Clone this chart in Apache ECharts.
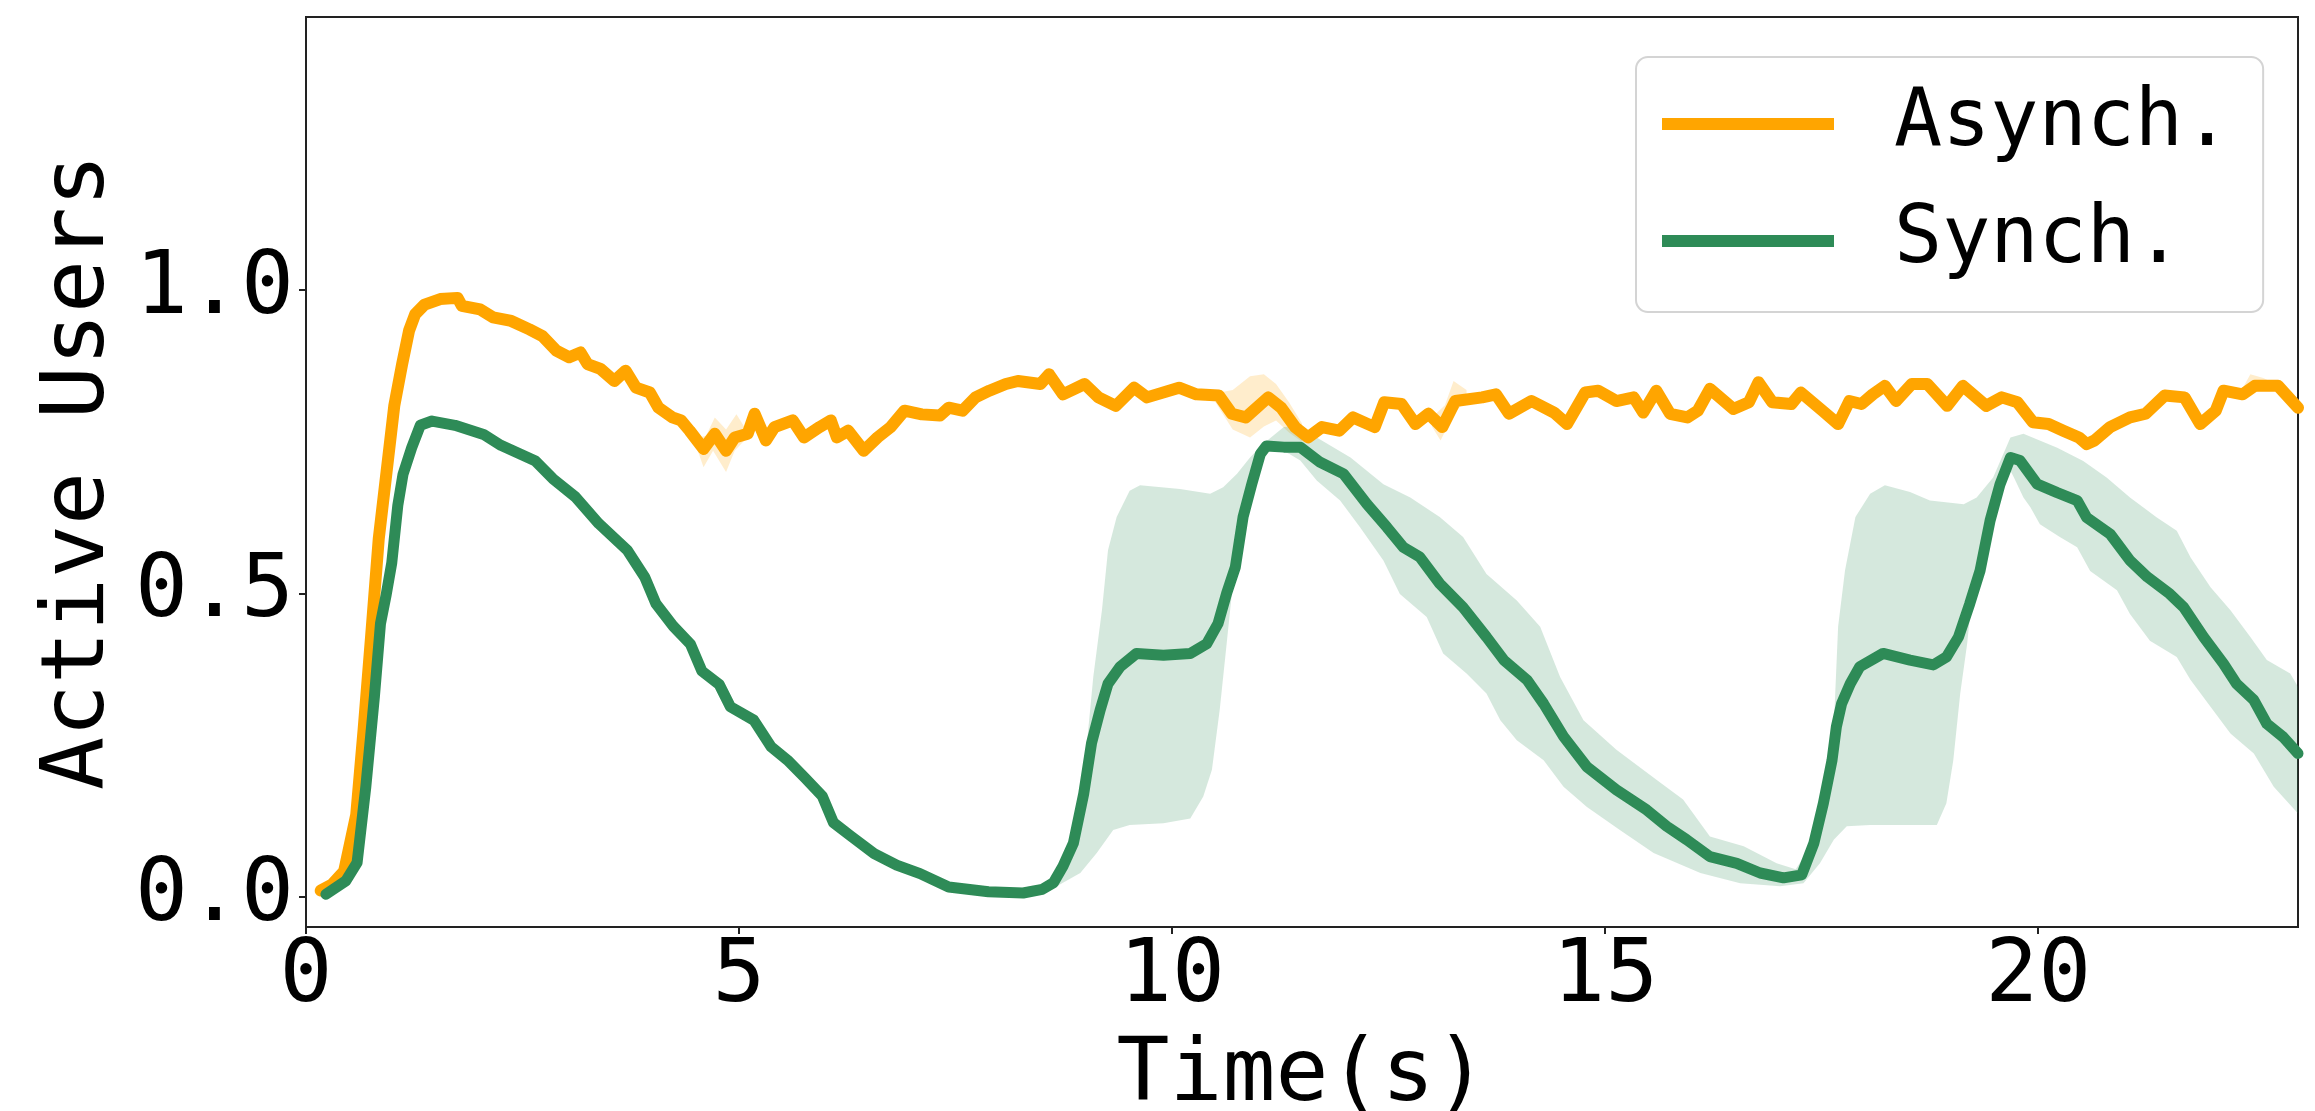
<!DOCTYPE html>
<html><head><meta charset="utf-8">
<script src="https://cdn.jsdelivr.net/npm/echarts@6/dist/echarts.min.js"></script>
<style>html,body{margin:0;padding:0;background:#fff}#c{width:2315px;height:1111px}</style>
</head><body><div id="c"></div>
<script>
const X_TICKS = [0, 5, 10, 15, 20];
const Y_TICKS = [0, 0.5, 1.0];
const NAME_ASYNC = 'Asynch.';
const NAME_SYNC = 'Synch.';

const ASYNC = [[0.17,0.010],[0.30,0.020],[0.44,0.042],[0.58,0.135],[0.665,0.275],[0.75,0.426],[0.84,0.59],[0.93,0.70],[1.02,0.81],[1.11,0.878],[1.19,0.933],[1.26,0.960],[1.37,0.976],[1.55,0.985],[1.75,0.987],[1.80,0.974],[2.01,0.968],[2.16,0.955],[2.37,0.949],[2.58,0.935],[2.73,0.924],[2.89,0.900],[3.04,0.889],[3.17,0.897],[3.25,0.878],[3.40,0.870],[3.56,0.850],[3.69,0.867],[3.81,0.839],[3.97,0.831],[4.07,0.806],[4.23,0.790],[4.33,0.785],[4.43,0.768],[4.59,0.738],[4.72,0.763],[4.85,0.735],[4.95,0.757],[5.10,0.763],[5.18,0.796],[5.31,0.752],[5.41,0.774],[5.62,0.785],[5.75,0.757],[5.93,0.774],[6.06,0.785],[6.13,0.757],[6.26,0.768],[6.44,0.735],[6.60,0.757],[6.75,0.774],[6.91,0.801],[7.11,0.795],[7.32,0.793],[7.42,0.806],[7.58,0.801],[7.73,0.823],[7.89,0.834],[8.08,0.845],[8.22,0.850],[8.48,0.845],[8.58,0.861],[8.74,0.828],[8.99,0.845],[9.15,0.823],[9.35,0.809],[9.56,0.839],[9.71,0.823],[10.08,0.839],[10.28,0.828],[10.54,0.826],[10.69,0.796],[10.85,0.790],[11.11,0.823],[11.26,0.806],[11.42,0.774],[11.57,0.757],[11.73,0.774],[11.93,0.768],[12.09,0.790],[12.34,0.774],[12.45,0.815],[12.65,0.812],[12.81,0.779],[12.96,0.796],[13.12,0.774],[13.27,0.817],[13.58,0.823],[13.74,0.828],[13.89,0.796],[14.15,0.817],[14.41,0.798],[14.56,0.779],[14.77,0.831],[14.92,0.834],[15.13,0.817],[15.33,0.823],[15.44,0.798],[15.59,0.834],[15.75,0.796],[15.95,0.790],[16.07,0.801],[16.21,0.837],[16.48,0.804],[16.66,0.815],[16.77,0.848],[16.93,0.815],[17.15,0.812],[17.26,0.831],[17.51,0.801],[17.69,0.779],[17.82,0.817],[17.96,0.812],[18.09,0.828],[18.23,0.842],[18.36,0.817],[18.54,0.845],[18.72,0.845],[18.95,0.809],[19.13,0.842],[19.40,0.809],[19.58,0.823],[19.76,0.815],[19.94,0.782],[20.12,0.779],[20.29,0.768],[20.47,0.757],[20.56,0.746],[20.65,0.752],[20.83,0.774],[21.06,0.790],[21.24,0.796],[21.46,0.826],[21.69,0.823],[21.87,0.779],[22.05,0.801],[22.14,0.834],[22.36,0.828],[22.50,0.842],[22.77,0.842],[23.0,0.806]];

const SYNC = [[0.23,0.004],[0.46,0.026],[0.59,0.056],[0.69,0.18],[0.79,0.33],[0.86,0.45],[0.925,0.497],[0.99,0.55],[1.06,0.645],[1.12,0.696],[1.22,0.74],[1.32,0.777],[1.455,0.784],[1.72,0.777],[2.05,0.762],[2.25,0.744],[2.65,0.718],[2.85,0.689],[3.11,0.659],[3.38,0.615],[3.71,0.571],[3.91,0.527],[4.04,0.483],[4.24,0.446],[4.44,0.416],[4.57,0.372],[4.77,0.35],[4.90,0.313],[5.17,0.291],[5.37,0.247],[5.56,0.225],[5.76,0.196],[5.96,0.166],[6.09,0.122],[6.29,0.10],[6.56,0.071],[6.82,0.052],[7.09,0.038],[7.42,0.016],[7.88,0.008],[8.28,0.006],[8.50,0.012],[8.63,0.023],[8.74,0.05],[8.86,0.088],[8.98,0.17],[9.07,0.253],[9.17,0.308],[9.26,0.351],[9.40,0.379],[9.59,0.401],[9.90,0.398],[10.21,0.401],[10.40,0.417],[10.53,0.45],[10.63,0.50],[10.73,0.543],[10.82,0.626],[10.92,0.68],[11.02,0.73],[11.09,0.743],[11.29,0.741],[11.48,0.741],[11.71,0.716],[11.98,0.697],[12.25,0.647],[12.48,0.609],[12.67,0.576],[12.86,0.56],[13.09,0.516],[13.36,0.477],[13.63,0.428],[13.83,0.39],[14.10,0.357],[14.29,0.318],[14.52,0.264],[14.79,0.214],[15.13,0.176],[15.48,0.143],[15.71,0.116],[15.94,0.094],[16.21,0.066],[16.52,0.055],[16.79,0.039],[17.06,0.031],[17.27,0.036],[17.41,0.088],[17.52,0.154],[17.62,0.225],[17.67,0.28],[17.73,0.318],[17.83,0.351],[17.94,0.379],[18.21,0.401],[18.52,0.39],[18.79,0.382],[18.94,0.395],[19.08,0.428],[19.21,0.483],[19.33,0.538],[19.445,0.62],[19.56,0.68],[19.68,0.724],[19.79,0.719],[19.99,0.68],[20.22,0.666],[20.45,0.653],[20.56,0.625],[20.83,0.598],[21.06,0.554],[21.26,0.527],[21.52,0.499],[21.68,0.477],[21.91,0.428],[22.14,0.384],[22.29,0.351],[22.49,0.324],[22.64,0.285],[22.83,0.263],[23.0,0.236]];

const SYNC_BAND_HI = [[8.50,0.015],[8.70,0.035],[8.84,0.06],[8.98,0.198],[9.09,0.362],[9.19,0.472],[9.26,0.571],[9.36,0.626],[9.51,0.669],[9.63,0.678],[10.09,0.672],[10.44,0.664],[10.59,0.675],[10.75,0.697],[10.90,0.724],[11.05,0.746],[11.29,0.774],[11.44,0.776],[11.67,0.757],[12.06,0.724],[12.44,0.68],[12.75,0.658],[13.09,0.626],[13.36,0.593],[13.63,0.532],[13.98,0.488],[14.25,0.445],[14.48,0.362],[14.75,0.291],[15.13,0.242],[15.6,0.192],[15.9,0.16],[16.21,0.099],[16.60,0.083],[16.98,0.055],[17.2,0.045],[17.41,0.09],[17.56,0.143],[17.64,0.28],[17.69,0.445],[17.77,0.538],[17.89,0.626],[18.06,0.664],[18.23,0.678],[18.52,0.667],[18.75,0.653],[19.14,0.647],[19.29,0.658],[19.48,0.691],[19.68,0.757],[19.83,0.763],[20.22,0.74],[20.52,0.718],[20.79,0.691],[21.06,0.658],[21.37,0.625],[21.60,0.603],[21.76,0.559],[21.99,0.51],[22.22,0.472],[22.45,0.428],[22.64,0.39],[22.91,0.368],[23.0,0.346]];

const SYNC_BAND_LO = [[8.50,0.003],[8.74,0.023],[8.94,0.039],[9.13,0.072],[9.32,0.11],[9.51,0.118],[9.90,0.121],[10.21,0.129],[10.36,0.165],[10.46,0.209],[10.55,0.308],[10.63,0.417],[10.71,0.527],[10.78,0.593],[10.82,0.637],[10.90,0.702],[11.05,0.735],[11.2,0.74],[11.35,0.73],[11.48,0.719],[11.67,0.686],[11.94,0.653],[12.17,0.609],[12.44,0.554],[12.63,0.499],[12.94,0.461],[13.13,0.401],[13.40,0.368],[13.63,0.335],[13.79,0.291],[13.98,0.258],[14.29,0.225],[14.52,0.181],[14.79,0.148],[15.17,0.11],[15.56,0.072],[16.10,0.039],[16.56,0.022],[17.02,0.017],[17.29,0.022],[17.48,0.055],[17.64,0.094],[17.79,0.116],[18.06,0.118],[18.83,0.118],[18.94,0.154],[19.02,0.225],[19.10,0.335],[19.18,0.417],[19.25,0.516],[19.33,0.571],[19.41,0.626],[19.52,0.675],[19.68,0.702],[19.72,0.691],[19.83,0.658],[19.91,0.642],[20.02,0.614],[20.25,0.593],[20.45,0.576],[20.6,0.537],[20.91,0.505],[21.06,0.466],[21.29,0.422],[21.6,0.395],[21.76,0.357],[21.99,0.313],[22.22,0.269],[22.49,0.236],[22.72,0.181],[23.0,0.137]];

// light orange spread, only where it shows beyond the line
const ASYNC_BAND_HI = [
  [[4.50,0.755],[4.62,0.760],[4.72,0.790],[4.85,0.770],[4.97,0.795],[5.08,0.770]],
  [[10.50,0.830],[10.70,0.835],[10.90,0.858],[11.06,0.861],[11.20,0.845],[11.35,0.815],[11.50,0.780]],
  [[13.00,0.790],[13.15,0.810],[13.25,0.850],[13.40,0.835]],
  [[22.35,0.835],[22.45,0.861],[22.60,0.855],[22.70,0.848]]
];
const ASYNC_BAND_LO = [
  [[4.50,0.745],[4.59,0.708],[4.70,0.735],[4.85,0.700],[4.95,0.735],[5.08,0.755]],
  [[10.50,0.815],[10.70,0.770],[10.90,0.757],[11.06,0.775],[11.20,0.785],[11.35,0.765],[11.50,0.750]],
  [[13.00,0.775],[13.10,0.752],[13.25,0.795],[13.40,0.820]],
  [[22.35,0.820],[22.45,0.830],[22.60,0.835],[22.70,0.835]]
];

const FONT = 'DejaVu Sans Mono';
const ORANGE = '#FFA500';
const GREEN = '#2E8B57';

function bandSeries(name, hiSegs, loSegs, fill, z) {
  return {
    type: 'custom', name: name + ' band', coordinateSystem: 'cartesian2d',
    silent: true, z: z, clip: true, animation: false,
    data: hiSegs.map((_, i) => [i]),
    renderItem: function (params, api) {
      const i = params.dataIndex;
      const pts = hiSegs[i].concat(loSegs[i].slice().reverse()).map(p => api.coord(p));
      return { type: 'polygon', shape: { points: pts }, style: { fill: fill } };
    }
  };
}

const chart = echarts.init(document.getElementById('c'), null, { renderer: 'canvas' });
chart.setOption({
  animation: false,
  backgroundColor: '#fff',
  grid: { left: 306, top: 17, width: 1992, height: 910, show: true, borderColor: '#222', borderWidth: 2,
          backgroundColor: 'transparent', containLabel: false, outerBoundsMode: 'none' },
  xAxis: {
    type: 'value', min: 0, max: 23,
    axisLine: { show: true, onZero: false, lineStyle: { color: '#222', width: 2 } },
    axisTick: { show: true, customValues: X_TICKS, length: 7, lineStyle: { color: '#222', width: 2 } },
    axisLabel: { customValues: X_TICKS, fontFamily: FONT, fontSize: 88, color: '#000', margin: 7 },
    splitLine: { show: false },
    name: 'Time(s)', nameLocation: 'middle', nameGap: 106,
    nameTextStyle: { fontFamily: FONT, fontSize: 88, color: '#000' }
  },
  yAxis: {
    type: 'value', min: -0.05, max: 1.45,
    axisLine: { show: true, onZero: false, lineStyle: { color: '#222', width: 2 } },
    axisTick: { show: true, customValues: Y_TICKS, length: 7, lineStyle: { color: '#222', width: 2 } },
    axisLabel: { customValues: Y_TICKS, formatter: v => Number(v).toFixed(1), fontFamily: FONT, fontSize: 88, color: '#000', margin: 12 },
    splitLine: { show: false },
    name: 'Active Users', nameLocation: 'middle', nameRotate: 90, nameGap: 176,
    nameTextStyle: { fontFamily: FONT, fontSize: 88, color: '#000' }
  },
  legend: {
    orient: 'vertical', left: 1636, top: 57,
    padding: [13, 32, 17, 26],
    itemWidth: 172, itemHeight: 12, itemGap: 9,
    selectedMode: false,
    backgroundColor: '#fff', borderColor: '#d4d4d4', borderWidth: 2, borderRadius: 12,
    textStyle: { fontFamily: FONT, fontSize: 80, color: '#000', lineHeight: 100, padding: [8, 0, 0, 55] },
    data: [{ name: NAME_ASYNC, icon: 'rect' }, { name: NAME_SYNC, icon: 'rect' }]
  },
  series: [
    bandSeries(NAME_ASYNC, ASYNC_BAND_HI, ASYNC_BAND_LO, 'rgba(255,165,0,0.2)', 1),
    bandSeries(NAME_SYNC, [SYNC_BAND_HI], [SYNC_BAND_LO], 'rgba(46,139,87,0.2)', 2),
    { type: 'line', name: NAME_ASYNC, data: ASYNC, symbol: 'none', showSymbol: false, z: 3,
      color: ORANGE, itemStyle: { color: ORANGE }, lineStyle: { color: ORANGE, width: 12, join: 'round', cap: 'round' } },
    { type: 'line', name: NAME_SYNC, data: SYNC, symbol: 'none', showSymbol: false, z: 4,
      color: GREEN, itemStyle: { color: GREEN }, lineStyle: { color: GREEN, width: 11, join: 'round', cap: 'round' } }
  ]
});
</script></body></html>
